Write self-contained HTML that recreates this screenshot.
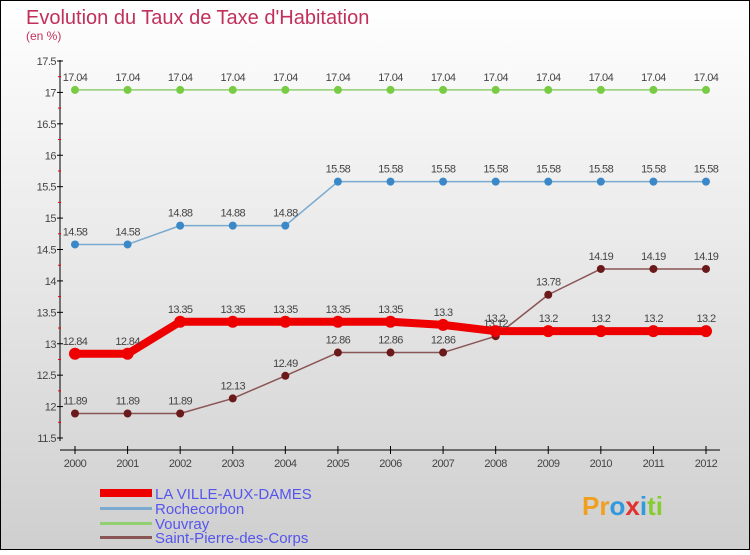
<!DOCTYPE html>
<html><head><meta charset="utf-8"><style>
html,body{margin:0;padding:0}
body{width:750px;height:550px;overflow:hidden;font-family:"Liberation Sans",sans-serif}
</style></head><body>
<svg id="c" width="750" height="550" xmlns="http://www.w3.org/2000/svg">
<defs><linearGradient id="bg" x1="0" y1="0" x2="0" y2="1"><stop offset="0" stop-color="#ffffff"/><stop offset="1" stop-color="#cfcfcf"/></linearGradient></defs>
<rect x="0.5" y="0.5" width="749" height="549" fill="url(#bg)" stroke="#000"/>
<text x="26" y="24" font-size="20" fill="#c0305a">Evolution du Taux de Taxe d'Habitation</text>
<text x="26" y="40" font-size="12" fill="#c0305a">(en %)</text>
<g id="plot"></g>
<g>
<rect x="100" y="489" width="52" height="8" fill="#e00"/>
<text x="155" y="499" font-size="15" fill="#5555ee">LA VILLE-AUX-DAMES</text>
<rect x="100" y="507" width="52" height="3" fill="#7aaad0"/>
<text x="155" y="514" font-size="15" fill="#5555ee">Rochecorbon</text>
<rect x="100" y="522" width="52" height="3" fill="#90d070"/>
<text x="155" y="529" font-size="15" fill="#5555ee">Vouvray</text>
<rect x="100" y="536" width="52" height="3" fill="#8a5555"/>
<text x="155" y="543" font-size="15" fill="#5555ee">Saint-Pierre-des-Corps</text>
</g>
<g font-size="26" font-weight="bold">
<text x="582" y="515"><tspan fill="#f0a020">Pr</tspan><tspan fill="#3399dd">o</tspan><tspan fill="#e03030">x</tspan><tspan fill="#3399dd">i</tspan><tspan fill="#88cc33">ti</tspan></text>
</g>
</svg>
<script>
const years=[2000,2001,2002,2003,2004,2005,2006,2007,2008,2009,2010,2011,2012];
const yTicks=[11.5,12,12.5,13,13.5,14,14.5,15,15.5,16,16.5,17,17.5];
const villeAuxDames=[12.84,12.84,13.35,13.35,13.35,13.35,13.35,13.3,13.2,13.2,13.2,13.2,13.2];
const rochecorbon=[14.58,14.58,14.88,14.88,14.88,15.58,15.58,15.58,15.58,15.58,15.58,15.58,15.58];
const vouvray=[17.04,17.04,17.04,17.04,17.04,17.04,17.04,17.04,17.04,17.04,17.04,17.04,17.04];
const saintPierre=[11.89,11.89,11.89,12.13,12.49,12.86,12.86,12.86,13.12,13.78,14.19,14.19,14.19];
const NS="http://www.w3.org/2000/svg";
const g=document.getElementById('plot');
const xS=i=>75+i*(706-75)/(years.length-1);
const yS=v=>438-(v-11.5)*(438-61)/6;
function el(t,a){const e=document.createElementNS(NS,t);for(const k in a)e.setAttribute(k,a[k]);g.appendChild(e);return e;}
// axes
let ax=el('line',{x1:60,y1:60,x2:60,y2:441,stroke:'#000'});


ax=el('line',{x1:60,y1:450,x2:720,y2:450,stroke:'#000'});


yTicks.forEach(v=>{
 const y=yS(v);
 el('line',{x1:57,y1:y,x2:63,y2:y,stroke:'#000'});
 const mt=el('line',{x1:58,y1:y+15.7,x2:61,y2:y+15.7,stroke:'#e00'});
 if(v===11.5) mt.remove();
 const t=el('text',{x:56,y:y+4,'font-size':11,fill:'#444','text-anchor':'end','letter-spacing':'-0.5'});
 t.textContent=String(v);
 
 
});
years.forEach((yr,i)=>{
 const x=xS(i);
 el('line',{x1:x,y1:446,x2:x,y2:454,stroke:'#000'});
 const t=el('text',{x:x,y:467,'font-size':11,fill:'#444','text-anchor':'middle','letter-spacing':'-0.5'});
 t.textContent=yr;
 
 
});
function series(vals,color,dot,width,r,name){
 const p=el('polyline',{points:vals.map((v,i)=>xS(i)+','+yS(v)).join(' '),fill:'none',stroke:color,'stroke-width':width,'stroke-linejoin':'round'});
 
 
 vals.forEach((v,i)=>{
  const c=el('circle',{cx:xS(i),cy:yS(v),r:r,fill:dot});
  
  
  const t=el('text',{x:xS(i),y:yS(v)-9,'font-size':11,fill:'#444','text-anchor':'middle','letter-spacing':'-0.6'});
  t.textContent=String(v);
  
  
 });
}
series(vouvray,'#90d070','#77cc44',1.5,4,'vouvray');
series(rochecorbon,'#7aaad0','#3a88c8',1.5,4,'rochecorbon');
series(saintPierre,'#8a5555','#6a1a1a',1.5,4,'saint-pierre-des-corps');
series(villeAuxDames,'#ee0000','#ee0000',8,6,'la-ville-aux-dames');
</script>
</body></html>
